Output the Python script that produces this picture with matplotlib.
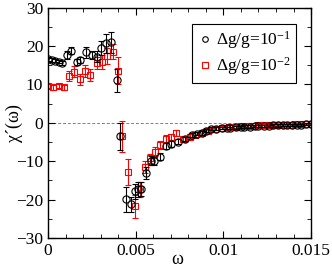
import matplotlib
matplotlib.use("Agg")
import matplotlib.pyplot as plt
from matplotlib.lines import Line2D
from matplotlib.ticker import MultipleLocator

plt.rcParams['font.family'] = ['Liberation Serif', 'DejaVu Serif']
plt.rcParams['mathtext.fontset'] = 'custom'
plt.rcParams['mathtext.rm'] = 'Liberation Serif'
plt.rcParams['mathtext.default'] = 'regular'

# Delta g / g = 1e-1 (black circles)
omega_a = [0.0000, 0.0002, 0.0004, 0.0006, 0.0008, 0.00107, 0.00133, 0.00167, 0.00183,
           0.00217, 0.0025, 0.0028, 0.0030, 0.0033, 0.0036, 0.0039, 0.0041, 0.00443,
           0.00473, 0.00496, 0.0051, 0.0053, 0.00557, 0.00586, 0.00606, 0.00639, 0.0067,
           0.0070, 0.0074, 0.0078, 0.0082, 0.0085, 0.00875, 0.0090, 0.0093, 0.0096,
           0.0099, 0.0102, 0.0104, 0.0107, 0.0110, 0.0112, 0.0115, 0.0118, 0.0120,
           0.0123, 0.0126, 0.0128, 0.0131, 0.0134, 0.0136, 0.0139, 0.0142, 0.0144,
           0.0147, 0.0150]
chi_a = [16.6, 16.3, 16.1, 15.9, 15.6, 17.6, 18.8, 15.9, 16.3,
         18.3, 17.6, 17.2, 19.5, 20.7, 20.9, 11.1, -3.5, -19.9,
         -21.2, -17.8, -17.3, -17.3, -13.0, -9.9, -9.9, -8.8, -6.1,
         -5.6, -4.9, -4.2, -3.2, -2.8, -2.7, -2.1, -1.6, -1.5,
         -1.4, -1.3, -1.4, -1.2, -1.1, -1.0, -1.0, -0.9, -0.9,
         -0.8, -0.8, -0.7, -0.7, -0.6, -0.6, -0.5, -0.5, -0.5,
         -0.4, -0.4]
err_a = [0.5, 0.5, 0.4, 0.4, 0.5, 1.0, 0.8, 0.8, 0.8,
         1.5, 1.0, 1.5, 1.8, 2.5, 2.8, 3.0, 3.5, 3.2,
         2.0, 2.0, 2.0, 1.8, 1.5, 1.2, 1.0, 1.0, 0.8,
         0.8, 0.7, 0.6, 0.6, 0.5, 0.5, 0.4, 0.4, 0.4,
         0.3, 0.3, 0.3, 0.3, 0.3, 0.3, 0.3, 0.3, 0.3,
         0.3, 0.3, 0.3, 0.3, 0.3, 0.3, 0.3, 0.3, 0.3,
         0.3, 0.3]

# Delta g / g = 1e-2 (red squares)
omega_b = [0.0000, 0.0003, 0.0006, 0.0009, 0.0012, 0.0015, 0.0018, 0.0021, 0.0024,
           0.0028, 0.0031, 0.00335, 0.0037, 0.0040, 0.0042, 0.00458, 0.00493, 0.00525,
           0.0055, 0.0058, 0.0061, 0.0064, 0.0067, 0.0070, 0.0073, 0.0077, 0.0081,
           0.0084, 0.0088, 0.0091, 0.0095, 0.0099, 0.0103, 0.0107, 0.0110, 0.0114,
           0.0117, 0.0120, 0.0123, 0.0126, 0.0129, 0.0132, 0.0135, 0.0138, 0.0141,
           0.0144, 0.0147, 0.0150]
chi_b = [9.6, 9.2, 9.6, 9.2, 12.2, 13.3, 11.3, 13.5, 12.4,
         15.5, 15.9, 17.4, 18.5, 13.5, -3.5, -12.8, -21.7, -17.3,
         -11.5, -9.2, -7.5, -5.8, -4.3, -3.7, -2.6, -4.3, -3.6,
         -3.1, -2.6, -2.1, -1.5, -1.3, -1.1, -1.0, -0.9, -0.8,
         -0.8, -0.7, -0.7, -0.6, -0.6, -0.5, -0.5, -0.5, -0.4,
         -0.4, -0.3, -0.3]
err_b = [0.6, 0.6, 0.6, 0.6, 1.2, 1.5, 1.5, 1.5, 1.5,
         1.5, 1.8, 2.0, 2.0, 3.5, 4.0, 3.5, 3.0, 2.0,
         1.5, 1.2, 1.2, 1.0, 1.0, 0.8, 0.8, 0.7, 0.6,
         0.6, 0.5, 0.5, 0.4, 0.4, 0.4, 0.3, 0.3, 0.3,
         0.3, 0.3, 0.3, 0.3, 0.3, 0.3, 0.3, 0.3, 0.3,
         0.3, 0.3, 0.3]

labels = [r'$\Delta$g/g=10$^{-1}$', r'$\Delta$g/g=10$^{-2}$']

fig = plt.figure(figsize=(3.32, 2.69), dpi=100)
ax = fig.add_axes([0.145, 0.115, 0.792, 0.857])

# zero line
ax.axhline(0, color='gray', lw=0.7, ls=(0, (3, 2)), zorder=1)

ax.errorbar(omega_a, chi_a, yerr=err_a, fmt='o', ms=5.2, mfc='none', mec='black',
            mew=0.8, ecolor='black', elinewidth=0.8, capsize=2.5, capthick=0.8, zorder=3)
ax.errorbar(omega_b, chi_b, yerr=err_b, fmt='s', ms=4.8, mfc='none', mec='red',
            mew=0.8, ecolor='red', elinewidth=0.8, capsize=2.5, capthick=0.8, zorder=2)

ax.set_xlim(0, 0.015)
ax.set_ylim(-30, 30)
ax.set_xticks([0, 0.005, 0.01, 0.015])
ax.set_xticklabels(['0', '0.005', '0.01', '0.015'])
ax.xaxis.set_minor_locator(MultipleLocator(0.001))
ax.yaxis.set_major_locator(MultipleLocator(10))
ax.yaxis.set_minor_locator(MultipleLocator(5))
ax.tick_params(which='both', direction='in', top=True, right=True, labelsize=12.5)
ax.tick_params(which='major', length=5)
ax.tick_params(which='minor', length=3)
for s in ax.spines.values():
    s.set_linewidth(1.0)

ax.set_xlabel('ω', fontsize=13)
ax.xaxis.set_label_coords(0.49, -0.055)
ax.set_ylabel('χ´(ω)', fontsize=13)
ax.yaxis.set_label_coords(-0.095, 0.5)

# legend shows markers only, no error bars
handles = [Line2D([], [], ls='none', marker='o', ms=4, mfc='none', mec='black', mew=0.8),
           Line2D([], [], ls='none', marker='s', ms=4, mfc='none', mec='red', mew=0.8)]
leg = ax.legend(handles, labels, loc='upper right', bbox_to_anchor=(0.943, 0.928),
                borderaxespad=0, fontsize=12.5, fancybox=False, edgecolor='black',
                framealpha=1, handletextpad=0.2, borderpad=0.3, handlelength=0.9,
                labelspacing=0.25)
leg.get_frame().set_linewidth(0.8)

fig.savefig('out.png', dpi=100)
